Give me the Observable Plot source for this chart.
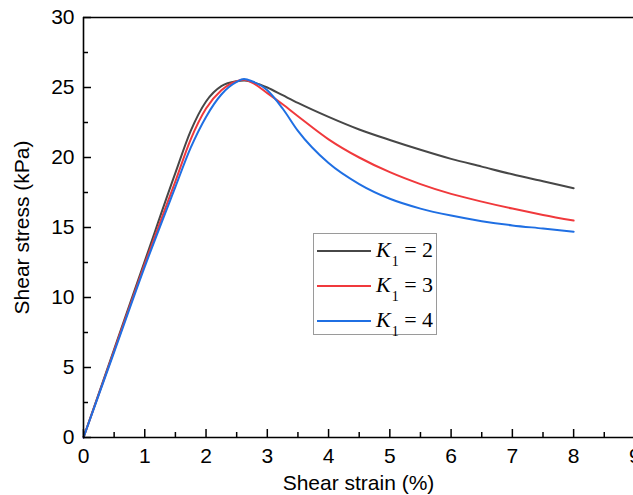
<!DOCTYPE html>
<html>
<head>
<meta charset="utf-8">
<script src="https://cdn.jsdelivr.net/npm/d3@7"></script>
<script src="https://cdn.jsdelivr.net/npm/@observablehq/plot@0.6"></script>
<style>
  html, body { margin: 0; padding: 0; background: #fff; }
  #wrap { position: relative; width: 633px; height: 495px; overflow: hidden; }
  #legend { position: absolute; left: 313px; top: 233px; width: 124px; height: 102px;
    border: 1px solid #9a9a9a; background: #fff; box-sizing: border-box;
    font-family: "Liberation Serif", "Times New Roman", serif; font-size: 22px; }
  .row { position: absolute; left: 3px; height: 30px; white-space: nowrap; }
  .sw { position: absolute; left: 0; top: 14px; width: 54px; height: 2px; }
  .txt { position: absolute; left: 59px; top: 1px; line-height: 26px; }
  .k { font-style: italic; }
  .sub { position: relative; top: 9px; font-size: 14px; margin-left: 1px; }
</style>
</head>
<body>
<div id="wrap"><div id="legend"></div></div>
<script>
const strain = [0, 0.5, 1, 1.5, 1.75, 2, 2.25, 2.5, 2.62, 2.75, 3, 3.25, 3.5, 4, 4.5, 5, 5.5, 6, 6.5, 7, 7.5, 8];
const stressK2 = [0, 6.3, 12.6, 18.9, 21.9, 24.0, 25.1, 25.45, 25.5, 25.4, 25.0, 24.45, 23.9, 22.9, 22.0, 21.25, 20.55, 19.9, 19.35, 18.8, 18.3, 17.8];
const stressK3 = [0, 6.2, 12.4, 18.3, 21.3, 23.5, 24.8, 25.45, 25.55, 25.35, 24.6, 23.8, 22.95, 21.3, 20.0, 18.95, 18.1, 17.4, 16.85, 16.35, 15.9, 15.5];
const stressK4 = [0, 6.1, 12.2, 17.9, 20.7, 22.9, 24.5, 25.4, 25.6, 25.45, 24.8, 23.5, 21.9, 19.6, 18.1, 17.05, 16.35, 15.85, 15.45, 15.15, 14.93, 14.7];
const seriesNames = ["K1 = 2", "K1 = 3", "K1 = 4"];
const seriesColors = ["#474747", "#f0393c", "#1f6fe3"];
const legendLabels = ["2", "3", "4"];
const xMajor = [0, 1, 2, 3, 4, 5, 6, 7, 8, 9];
const xMinor = [0.5, 1.5, 2.5, 3.5, 4.5, 5.5, 6.5, 7.5, 8.5];
const yMajor = [0, 5, 10, 15, 20, 25, 30];
const yMinor = [2.5, 7.5, 12.5, 17.5, 22.5, 27.5];

const allSeries = [stressK2, stressK3, stressK4];
const data = [];
allSeries.forEach((vals, i) => vals.forEach((v, j) => data.push({x: strain[j], y: v, s: seriesNames[i]})));

const chart = Plot.plot({
  width: 633, height: 495,
  marginLeft: 83, marginTop: 17, marginBottom: 58, marginRight: 0,
  style: {fontFamily: "'Liberation Sans', Arial, sans-serif", fontSize: "21px", color: "#000", background: "#fff"},
  x: {domain: [0, 9], range: [83, 634.4]},
  y: {domain: [0, 30], range: [437, 17]},
  color: {domain: seriesNames, range: seriesColors},
  marks: [
    Plot.line(data, {x: "x", y: "y", stroke: "s", z: "s", curve: "monotone-x", strokeWidth: 2}),
    Plot.axisX({ticks: xMajor, tickSize: -8, text: null, label: null, strokeWidth: 1.5}),
    Plot.axisX({ticks: xMinor, tickSize: -5, text: null, label: null, strokeWidth: 1.5}),
    Plot.axisY({ticks: yMajor, tickSize: -8, text: null, label: null, strokeWidth: 1.5}),
    Plot.axisY({ticks: yMinor, tickSize: -5, text: null, label: null, strokeWidth: 1.5}),
    Plot.axisX({ticks: xMajor, tickSize: 0, tickPadding: 11, label: "Shear strain (%)", labelAnchor: "center", labelArrow: "none", labelOffset: 52}),
    Plot.axisY({ticks: yMajor, tickSize: 0, tickPadding: 9, label: "Shear stress (kPa)", labelAnchor: "center", labelArrow: "none", labelOffset: 69}),
    Plot.ruleY([0], {strokeWidth: 1.6}),
    Plot.ruleY([30], {strokeWidth: 1.6}),
    Plot.ruleX([0], {strokeWidth: 1.6})
  ]
});
document.getElementById("wrap").prepend(chart);

const legend = document.getElementById("legend");
legendLabels.forEach((lab, i) => {
  const row = document.createElement("div");
  row.className = "row";
  row.style.top = (2 + i * 35) + "px";
  row.innerHTML = `<span class="sw" style="background:${seriesColors[i]}"></span><span class="txt"><span class="k">K</span><span class="sub">1</span>&nbsp;= ${lab}</span>`;
  legend.appendChild(row);
});
</script>
</body>
</html>
